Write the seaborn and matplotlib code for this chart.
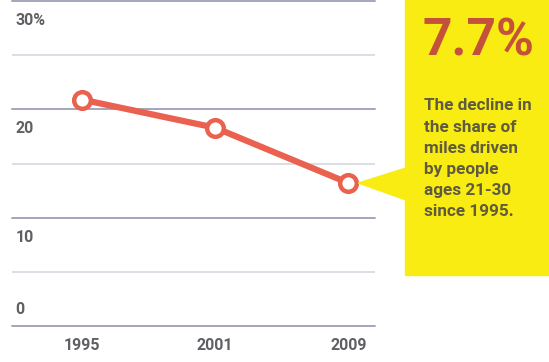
#!/usr/bin/env python3
"""Share of miles driven by people ages 21-30, with a yellow callout box."""

import seaborn as sns
import pandas as pd
import matplotlib.pyplot as plt
from matplotlib.patches import Rectangle, Polygon

# DATA
YEARS = ["1995", "2001", "2009"]
SHARE = [20.9, 18.3, 13.2]
Y_MAJOR = [0, 10, 20, 30]
Y_MINOR = [5, 15, 25]
Y_LABELS = ["0", "10", "20", "30%"]
CALLOUT_BIG = "7.7%"
CALLOUT_TEXT = ["The decline in", "the share of", "miles driven",
                "by people", "ages 21-30", "since 1995."]

# STYLE
LINE_COLOR = "#ea6150"
GRID_DARK = "#a3a6bb"
GRID_LIGHT = "#d9dbe3"
LABEL_COLOR = "#606064"
YELLOW = "#f9ec12"
BIG_COLOR = "#c4513a"
BODY_COLOR = "#5f5b3c"
FONT = ["Roboto", "DejaVu Sans"]

sns.set_theme(style="white")
plt.rcParams["font.family"] = FONT

W, H = 549, 362
fig = plt.figure(figsize=(W / 100, H / 100), dpi=100)
ax = fig.add_axes([12 / W, (H - 326) / H, (375 - 12) / W, 325 / H])

df = pd.DataFrame({"year": YEARS, "share": SHARE})

for v in Y_MINOR:
    ax.axhline(v, color=GRID_LIGHT, lw=1.3, zorder=0)
for v in Y_MAJOR:
    ax.axhline(v, color=GRID_DARK, lw=1.4, zorder=0, clip_on=False)

sns.lineplot(data=df, x="year", y="share", ax=ax, color=LINE_COLOR,
             linewidth=4.5, marker="o", markersize=12,
             markerfacecolor="white", markeredgecolor=LINE_COLOR,
             markeredgewidth=3.2, zorder=3)

ax.set_xlim(-0.526, 2.2)
ax.set_ylim(0, 30)
ax.set_xlabel("")
ax.set_ylabel("")
ax.set_xticks([])
ax.set_yticks([])
for s in ax.spines.values():
    s.set_visible(False)

# y labels sit just under their gridline (0 sits above the baseline)
for v, lab in zip(Y_MAJOR, Y_LABELS):
    off = 1.5 if v == 0 else -1.8
    ax.text(-0.5, v + off, lab, ha="left", va="center",
            fontsize=11.5, fontweight="bold", color=LABEL_COLOR)

for i, lab in enumerate(YEARS):
    ax.text(i, -1.8, lab, ha="center", va="center", fontsize=11.5,
            fontweight="bold", color=LABEL_COLOR, clip_on=False)

# CALLOUT BOX
fig.patches.append(Rectangle((405 / W, (H - 275) / H), 144 / W, 275 / H,
                             transform=fig.transFigure, color=YELLOW,
                             zorder=1))
tip = ax.transData.transform((2, SHARE[-1]))
tip = fig.transFigure.inverted().transform((tip[0] + 10, tip[1]))
fig.patches.append(Polygon([tip, (406 / W, (H - 168) / H),
                            (406 / W, (H - 200) / H)],
                           transform=fig.transFigure, color=YELLOW, zorder=1))

fig.text(422 / W, (H - 42) / H, CALLOUT_BIG, ha="left", va="center",
         fontsize=37, fontweight="bold", color=BIG_COLOR)
for i, line in enumerate(CALLOUT_TEXT):
    fig.text(424 / W, (H - 106 - i * 21.2) / H, line, ha="left",
             va="center", fontsize=12.3, fontweight="bold",
             color=BODY_COLOR)

fig.savefig("out.png", dpi=100)
